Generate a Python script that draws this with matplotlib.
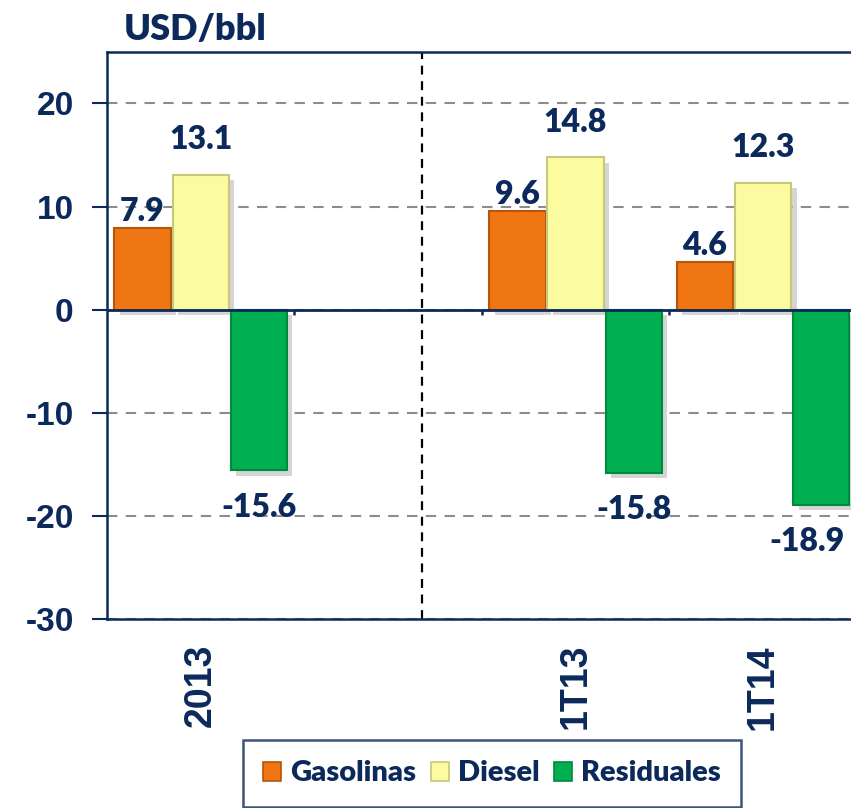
import numpy as np
import matplotlib.pyplot as plt
import matplotlib.patheffects as pe
from matplotlib.patches import Patch

plt.rcParams['font.family'] = ['Liberation Sans', 'DejaVu Sans']
plt.rcParams['axes.unicode_minus'] = False

categories = ['2013', '', '1T13', '1T14']
gasolinas = [7.9, np.nan, 9.6, 4.6]
diesel = [13.1, np.nan, 14.8, 12.3]
residuales = [-15.6, np.nan, -15.8, -18.9]
series_names = ['Gasolinas', 'Diesel', 'Residuales']

navy = '#0B2A5B'
face_colors = ['#F07614', '#FBFBA0', '#00B050']
edge_colors = ['#B5560A', '#C9C779', '#008A3C']
label_offsets = [1.6, 3.4, -3.6]

fig = plt.figure(figsize=(8.51, 8.08), dpi=100)
ax = fig.add_axes([0.1257, 0.234, 0.881, 0.7017])

x = np.arange(len(categories))
width = 0.30
step = 0.31
shadow = [pe.SimplePatchShadow(offset=(4, -4), alpha=0.22, shadow_rgbFace='#444444'), pe.Normal()]

value_labels = []
for i, vals in enumerate([gasolinas, diesel, residuales]):
    pos = x + (i - 1) * step
    bars = ax.bar(pos, vals, width, color=face_colors[i], edgecolor=edge_colors[i],
                  linewidth=1.5, zorder=3, label=series_names[i])
    for b in bars:
        b.set_path_effects(shadow)
    for xp, v in zip(pos, vals):
        if np.isnan(v):
            continue
        t = ax.text(xp, v + label_offsets[i], f'{v:.1f}', ha='center', va='center',
                    fontsize=23, fontweight='heavy', color=navy, family='Lato', zorder=5)
        value_labels.append(t)

ax.set_xlim(-0.5, len(categories) - 0.5)
ax.set_ylim(-30, 25)
ax.set_yticks([-30, -20, -10, 0, 10, 20])
ax.yaxis.grid(True, linestyle=(0, (5, 4)), color='#8C8C8C', linewidth=1.5, zorder=0)
ax.set_axisbelow(True)

ax.axhline(0, color=navy, linewidth=2, zorder=4)
ax.vlines(x[:-1] + 0.5, -0.55, 0, color=navy, linewidth=1.8, zorder=4)
ax.axvline(1.18, color='black', linestyle=(0, (4, 3)), linewidth=1.6, zorder=2)

ax.set_xticks(x)
ax.set_xticklabels(categories, rotation=90, fontsize=27, fontweight='bold', color=navy)
ax.tick_params(axis='x', length=0, pad=18)
ax.tick_params(axis='y', length=11, width=1.5, color=navy, labelsize=24,
               labelcolor=navy, pad=13)
for lab in ax.get_yticklabels():
    lab.set_fontweight('bold')

for s in ax.spines.values():
    s.set_color(navy)
    s.set_linewidth(1.8)

fig.text(0.145, 0.963, 'USD/bbl', fontsize=26, fontweight='heavy', color=navy,
         family='Lato', va='center')

handles = [Patch(facecolor=face_colors[i], edgecolor=edge_colors[i], linewidth=1.2)
           for i in range(3)]
leg = fig.legend(handles, series_names, loc='upper left',
                 bbox_to_anchor=(243 / 851, 1 - 740 / 808),
                 ncol=3, frameon=True, fancybox=False, handlelength=0.62,
                 handleheight=0.62, handletextpad=0.3, columnspacing=0.5,
                 borderaxespad=0, borderpad=0.7,
                 prop={'family': 'Lato', 'weight': 'heavy', 'size': 21})
leg.get_frame().set_edgecolor(navy)
leg.get_frame().set_linewidth(1.8)
for t in leg.get_texts():
    t.set_color(navy)

# keep value labels inside the figure, like the original chart does
fig.canvas.draw()
renderer = fig.canvas.get_renderer()
fig_w = fig.bbox.width
for t in value_labels:
    bb = t.get_window_extent(renderer)
    if bb.x1 > fig_w - 4:
        t.set_ha('right')
        tx, ty = t.get_position()
        xr = ax.transData.inverted().transform((fig_w - 6, 0))[0]
        t.set_position((xr, ty))

fig.savefig('out.png', dpi=100)
